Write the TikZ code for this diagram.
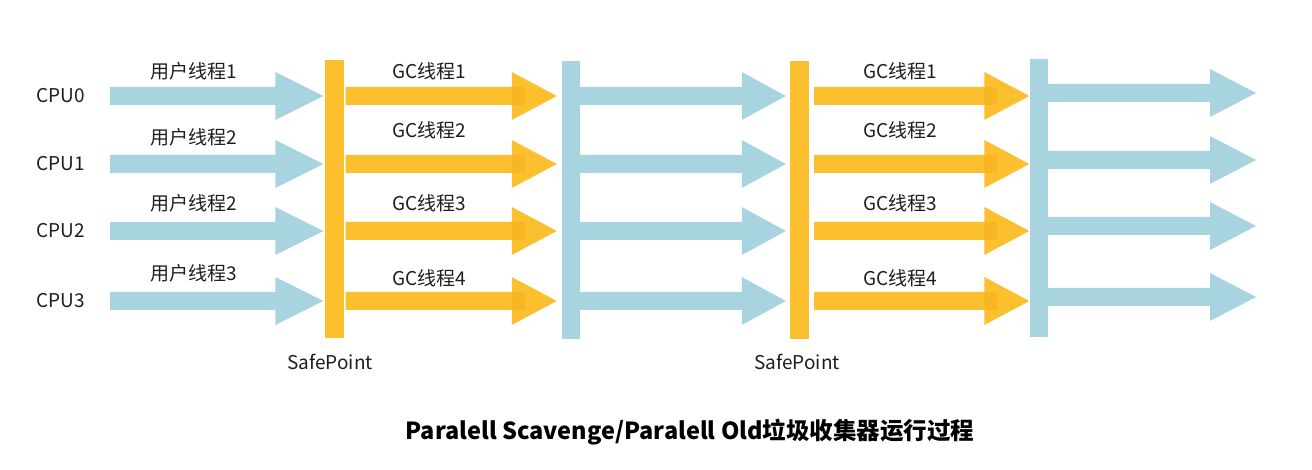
\documentclass[tikz,border=0pt]{standalone}
\usepackage{fontspec}
\setmainfont{Noto Sans CJK SC}
\usetikzlibrary{calc}
\definecolor{gcy}{RGB}{252,192,46}
\definecolor{gcyd}{RGB}{248,182,34}
\definecolor{usb}{RGB}{168,212,223}
\definecolor{txt}{RGB}{30,30,30}
\tikzset{
  lbl/.style={font=\fontsize{19}{21}\selectfont, text=txt, inner sep=0pt},
  ybar/.style={fill=gcy, inner sep=0pt, minimum width=19pt, minimum height=278pt},
  bbar/.style={fill=usb, inner sep=0pt, minimum width=18pt, minimum height=278pt},
  ttl/.style={font=\fontsize{23.5}{26}\selectfont\bfseries, text=black, inner sep=0pt}
}
% #1 start, #2 tip, #3 colour, #4 head length
\newcommand\fatarrow[4]{%
  \fill[#3] ($(#1)+(0,-9)$) -- ($(#2)+(-#4,-9)$) -- ($(#2)+(-#4,-24)$) -- (#2)
     -- ($(#2)+(-#4,24)$) -- ($(#2)+(-#4,9)$) -- ($(#1)+(0,9)$) -- cycle;}
\newcommand\yarrow[2]{%
  \fatarrow{#1}{#2}{gcy}{45}%
  \fill[gcyd] ($(#2)+(-45,-9)$) rectangle ($(#2)+(-32,9)$);}
\begin{document}
\begin{tikzpicture}[x=1pt,y=-1pt]
\useasboundingbox[fill=white] (0,0) rectangle (1312,470);
% bars
\node[ybar] (sp1) at (334,199) {};
\node[bbar] (b2) at (571,200) {};
\node[ybar] (sp2) at (799.5,200.5) {};
\node[bbar] (b3) at (1038.5,198.5) {};
% CPU labels
\foreach \i/\y in {0/96,1/164,2/231,3/301}{
  \node[lbl] (cpu\i) at (61,\y) {CPU\i};
  \coordinate (a\i) at (110,\y);
  \coordinate (g\i) at (sp1.east |- cpu\i);
  \coordinate (c\i) at (b2.east |- cpu\i);
  \coordinate (h\i) at ($(sp2.east |- cpu\i)+(5,0)$);
}
\foreach \i/\y in {0/93,1/160,2/226,3/297}{
  \coordinate (d\i) at (b3.east |- 0,\y);
  \coordinate (e\i) at (1256,\y);
}
% arrows
\foreach \i in {0,...,3}{
  \fatarrow{a\i}{$(sp1.west |- a\i)+(-1,0)$}{usb}{48}
  \yarrow{$(g\i)+(2,0)$}{$(b2.west |- g\i)+(-5,0)$}
  \fatarrow{c\i}{$(sp2.west |- c\i)+(-4,0)$}{usb}{44}
  \yarrow{h\i}{b3.west |- h\i}
  \fatarrow{d\i}{e\i}{usb}{46}
}
% thread labels
\node[lbl] (u0) at (194,71) {用户线程1};
\node[lbl] (u1) at (194,137) {用户线程2};
\node[lbl] (u2) at (194,203) {用户线程2};
\node[lbl] (u3) at (194,273) {用户线程3};
\foreach \i/\y in {1/71,2/130,3/203,4/278}{
  \node[lbl] (gca\i) at (429,\y) {GC线程\i};
  \node[lbl] (gcb\i) at (900,\y) {GC线程\i};
}
\node[lbl] (spl1) at (330,362) {SafePoint};
\node[lbl] (spl2) at (797,362) {SafePoint};
\node[ttl] (title) at (690,432) {Paralell Scavenge/Paralell Old垃圾收集器运行过程};
\end{tikzpicture}
\end{document}
